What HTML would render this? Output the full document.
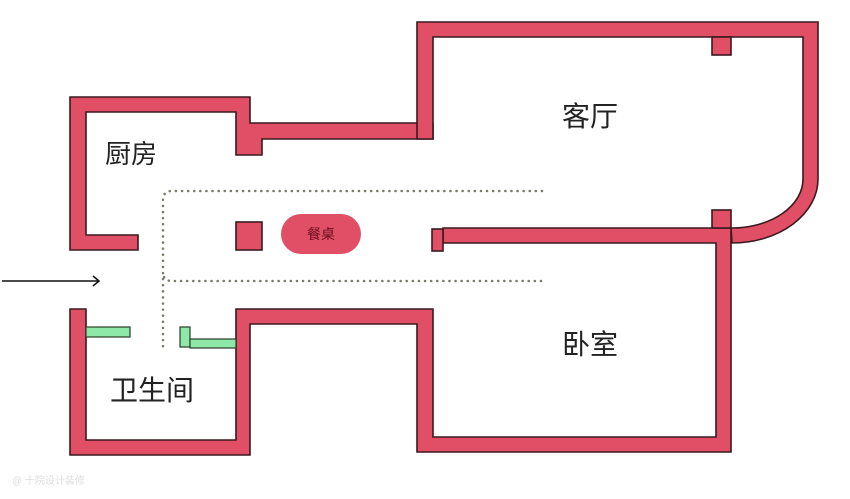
<!DOCTYPE html>
<html><head><meta charset="utf-8"><style>
html,body{margin:0;padding:0;background:#fff;width:850px;height:499px;overflow:hidden}
svg{display:block}
text{font-family:"Liberation Sans","Noto Sans CJK SC",sans-serif}
</style></head><body>
<svg width="850" height="499" viewBox="0 0 850 499" xmlns="http://www.w3.org/2000/svg">
<g fill="#e04f66" stroke="#3a1a1e" stroke-width="1.6" stroke-linejoin="miter">
<polygon points="70,97 250,97 250,123 433,123 433,139 262,139 262,155 236,155 236,112 86,112 86,235 138,235 138,250 70,250"/>
<path d="M433,139 L417,139 L417,22 L818,22 L818,179 A86,64 0 0 1 732,243 L731,228 A71,49 0 0 0 803,179 L803,37 L433,37 Z"/>
<polygon points="236,309 433,309 433,437 716,437 716,243 443,243 443,228 731,228 731,452 417,452 417,324 250,324 250,455 70,455 70,309 86,309 86,440 236,440"/>
<rect x="432" y="229" width="11" height="22"/>
<rect x="712" y="37" width="19" height="18"/>
<rect x="712" y="210" width="19" height="18"/>
<rect x="236" y="222" width="26" height="28"/>
<rect x="281" y="214" width="80" height="40" rx="20" stroke="none"/>
</g>
<g fill="#8ee8a8" stroke="#2a3a2a" stroke-width="1.2">
<rect x="86" y="327" width="44" height="10"/>
<rect x="180" y="327" width="10" height="20"/>
<rect x="190" y="339" width="46" height="9"/>
</g>
<g fill="none" stroke="#7a7a6a" stroke-width="2.5" stroke-dasharray="0.1 6" stroke-linecap="round">
<path d="M542,191 L172,191 Q163,191 163,200 L163,352"/>
<path d="M541,281 L172,281 Q163,281 163,272"/>
</g>
<line x1="2" y1="281" x2="99" y2="281" stroke="#111" stroke-width="1.5"/>
<polyline points="93,276 99,281 93,286" fill="none" stroke="#111" stroke-width="1.5"/>
<g fill="#222" font-size="26">
<text x="105" y="163">厨房</text>
<text x="110" y="400" font-size="28">卫生间</text>
<text x="562" y="126" font-size="28">客厅</text>
<text x="562" y="354" font-size="28">卧室</text>
</g>
<text x="321" y="239" font-size="14" fill="#6a1020" text-anchor="middle">餐桌</text>
<text x="12" y="484" font-size="10" fill="#ddd">@ 十院设计装修</text>
</svg>
</body></html>
